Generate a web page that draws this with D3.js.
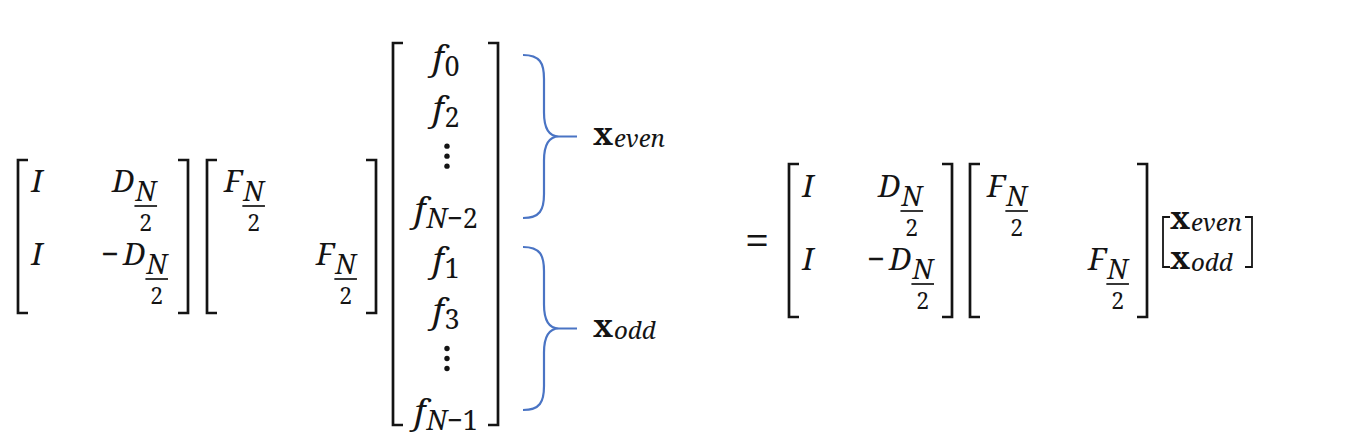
<!DOCTYPE html>
<html>
<head>
<meta charset="utf-8">
<script src="https://cdn.jsdelivr.net/npm/d3@7"></script>
<style>
  body { margin: 0; background: #fff; }
</style>
</head>
<body>
<div id="eq"></div>
<script>
// matrix contents
const blockOps = [["I", "D"], ["I", "−D"]];
const fftDiag = [["F", ""], ["", "F"]];
const halfSub = ["N", "2"];
const vecBase = ["f", "f", "⋮", "f", "f", "f", "⋮", "f"];
const vecSub = ["0", "2", "", "N−2", "1", "3", "", "N−1"];
const braceRows = [[0, 3], [4, 7]];
const braceLabels = ["even", "odd"];

const width = 1350, height = 444;
const ink = "#141414", blue = "#4a74c4";
const face = "Noto Serif, DejaVu Serif, serif";

const svg = d3.select("#eq").append("svg")
    .attr("width", width)
    .attr("height", height)
    .attr("font-family", face)
    .attr("fill", ink);

// placement of the four 2x2 matrices
const matrices = [
    {cells: blockOps, cols: [37, 134], rows: [192, 265], box: [18, 188, 160, 313]},
    {cells: fftDiag, cols: [244, 336], rows: [192, 265], box: [207, 376, 160, 313]},
    {cells: blockOps, cols: [808, 900], rows: [197, 270], box: [789, 952, 164, 317]},
    {cells: fftDiag, cols: [1007, 1108], rows: [197, 270], box: [970, 1147, 164, 317]}
];

function bracket(x, y0, y1, dir, serif, sw) {
    svg.append("path")
        .attr("d", `M${x + dir * serif},${y0} L${x},${y0} L${x},${y1} L${x + dir * serif},${y1}`)
        .attr("fill", "none")
        .attr("stroke", ink)
        .attr("stroke-width", sw);
}

// letters italic, digits and signs upright
function richText(parent, str, size) {
    const t = parent.append("text").attr("font-size", size);
    for (const ch of str) {
        t.append("tspan")
            .attr("font-style", /[A-Za-z]/.test(ch) ? "italic" : "normal")
            .text(ch);
    }
    return t;
}

function cell(str, cx, y) {
    const grp = svg.append("g");
    const t = grp.append("text").attr("font-size", 31).attr("y", y);
    if (str[0] === "−") {
        t.append("tspan").text("−");
        t.append("tspan").attr("font-style", "italic").attr("dx", 4).text(str.slice(1));
    } else {
        t.append("tspan").attr("font-style", "italic").text(str);
    }
    let w = t.node().getComputedTextLength() + (str[0] === "−" ? 4 : 0);
    if (/[DF]/.test(str)) {
        // stacked N over 2, one text with two centred chunks
        const fr = grp.append("text").attr("text-anchor", "middle");
        const n = fr.append("tspan").attr("font-size", 27).attr("font-style", "italic")
            .text(halfSub[0]);
        const nw = n.node().getComputedTextLength();
        const fx = w + 1 + nw / 2;
        n.attr("x", fx).attr("y", y + 9);
        fr.append("tspan").attr("font-size", 23).attr("x", fx).attr("y", y + 39)
            .text(halfSub[1]);
        grp.append("line")
            .attr("x1", fx - nw / 2 - 1).attr("x2", fx + nw / 2 + 1)
            .attr("y1", y + 14).attr("y2", y + 14)
            .attr("stroke", ink).attr("stroke-width", 1.7);
        w = w + 1 + nw;
    }
    grp.attr("transform", `translate(${cx - w / 2},0)`);
}

matrices.forEach(m => {
    const x = d3.scalePoint().domain([0, 1]).range(m.cols);
    const y = d3.scalePoint().domain([0, 1]).range(m.rows);
    m.cells.forEach((row, i) => row.forEach((s, j) => {
        if (s) cell(s, x(j), y(i));
    }));
    bracket(m.box[0], m.box[2], m.box[3], 1, 10, 2.7);
    bracket(m.box[1], m.box[2], m.box[3], -1, 10, 2.7);
});

// the long column vector
const vx = 446;
const vy = d3.scalePoint().domain(d3.range(vecBase.length)).range([70, 424]);
vecBase.forEach((b, i) => {
    const y = vy(i);
    if (b === "⋮") {
        svg.selectAll(null).data([-25, -15, -5]).enter().append("circle")
            .attr("cx", vx + 1).attr("cy", d => y + d).attr("r", 2.7)
            .attr("fill", ink);
        return;
    }
    const grp = svg.append("g");
    const t = richText(grp, b, 35).attr("y", y);
    const w = t.node().getComputedTextLength();
    const s = richText(grp, vecSub[i], 27).attr("x", w + 1).attr("y", y + 6);
    const sw = s.node().getComputedTextLength();
    grp.attr("transform", `translate(${vx - (w + 1 + sw) / 2},0)`);
});
bracket(393, 43, 425, 1, 10, 2.7);
bracket(498, 43, 425, -1, 10, 2.7);

// curly braces grouping the even / odd halves
function bracePath(x0, y0, y1, xs, xt) {
    const ym = (y0 + y1) / 2, r = 24, xc = xs + 15;
    return `M${x0},${y0} C${xs - 4},${y0} ${xs},${y0 + 8} ${xs},${y0 + r}` +
        ` L${xs},${ym - r} C${xs},${ym - 8} ${xs + 5},${ym} ${xc},${ym} L${xt},${ym}` +
        ` M${xc},${ym} C${xs + 5},${ym} ${xs},${ym + 8} ${xs},${ym + r}` +
        ` L${xs},${y1 - r} C${xs},${y1 - 8} ${xs - 4},${y1} ${x0},${y1}`;
}

function boldLabel(x, y, sub) {
    const grp = svg.append("g").attr("transform", `translate(${x},0)`);
    const t = grp.append("text").attr("font-size", 31).attr("font-weight", "bold")
        .attr("y", y).text("x");
    const w = t.node().getComputedTextLength();
    grp.append("text").attr("font-size", 24).attr("font-style", "italic")
        .attr("x", w + 1).attr("y", y + 2).text(sub);
    return grp;
}

const braceBounds = [[55, 218], [247, 410]];
braceRows.forEach((r, k) => {
    const [y0, y1] = braceBounds[k];
    svg.append("path")
        .attr("d", bracePath(523, y0, y1, 544, 577))
        .attr("fill", "none")
        .attr("stroke", blue)
        .attr("stroke-width", 2.2);
    boldLabel(593, (y0 + y1) / 2 + 8, braceLabels[k]);
});

// equals sign
svg.append("text").attr("font-size", 44).attr("x", 757).attr("y", 256)
    .attr("text-anchor", "middle").text("=");

// small stacked vector [x_even; x_odd]
const sy = d3.scalePoint().domain([0, 1]).range([229, 269]);
braceLabels.forEach((lab, k) => boldLabel(1170, sy(k), lab));
bracket(1163, 217, 267, 1, 7, 1.8);
bracket(1252, 217, 267, -1, 7, 1.8);
</script>
</body>
</html>
